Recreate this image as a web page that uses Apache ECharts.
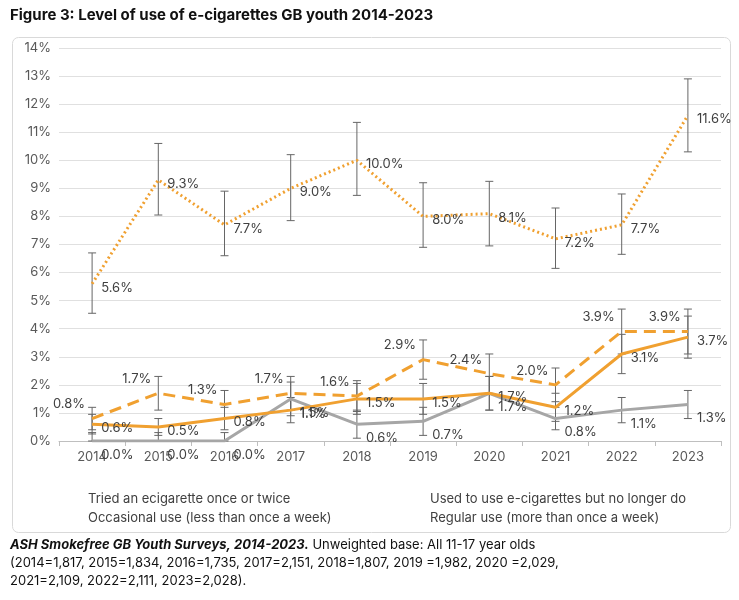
<!DOCTYPE html>
<html><head><meta charset="utf-8">
<script src="https://cdn.jsdelivr.net/npm/echarts@6/dist/echarts.min.js"></script>
<style>html,body{margin:0;background:#fff}#c{width:739px;height:600px}</style>
</head><body><div id="c"></div>
<script>
const years = ["2014","2015","2016","2017","2018","2019","2020","2021","2022","2023"];
const tried = [5.6, 9.3, 7.7, 9.0, 10.0, 8.0, 8.1, 7.2, 7.7, 11.6];
const triedLow = [4.55, 8.05, 6.6, 7.85, 8.75, 6.9, 6.95, 6.15, 6.65, 10.3];
const triedHigh = [6.7, 10.6, 8.9, 10.2, 11.35, 9.2, 9.25, 8.3, 8.8, 12.9];
const usedTo = [0.0, 0.0, 0.0, 1.5, 0.6, 0.7, 1.7, 0.8, 1.1, 1.3];
const usedErr = [0.3, 0.3, 0.3, 0.6, 0.5, 0.5, 0.6, 0.4, 0.45, 0.5];
const occasional = [0.8, 1.7, 1.3, 1.7, 1.6, 2.9, 2.4, 2.0, 3.9, 3.9];
const occErr = [0.4, 0.6, 0.5, 0.6, 0.55, 0.7, 0.7, 0.6, 0.8, 0.8];
const regular = [0.6, 0.5, 0.8, 1.1, 1.5, 1.5, 1.7, 1.2, 3.1, 3.7];
const regErr = [0.35, 0.3, 0.4, 0.45, 0.55, 0.55, 0.6, 0.5, 0.7, 0.75];
const yTicks = [0, 1, 2, 3, 4, 5, 6, 7, 8, 9, 10, 11, 12, 13, 14];

const orange = "#f0a030";
const grey = "#a6a6a6";
const font = "Inter";

function errorBars(low, high) {
  return {
    type: "custom",
    silent: true,
    z: 5,
    data: years.map((y, i) => [i, low[i], high[i]]),
    renderItem(params, api) {
      const x = api.coord([api.value(0), api.value(1)]);
      const t = api.coord([api.value(0), api.value(2)]);
      const w = 4;
      const st = { stroke: "#666", lineWidth: 1 };
      return {
        type: "group",
        children: [
          { type: "line", shape: { x1: x[0], y1: x[1], x2: t[0], y2: t[1] }, style: st },
          { type: "line", shape: { x1: x[0] - w, y1: x[1], x2: x[0] + w, y2: x[1] }, style: st },
          { type: "line", shape: { x1: t[0] - w, y1: t[1], x2: t[0] + w, y2: t[1] }, style: st },
        ],
      };
    },
  };
}

function lineSeries(name, data, color, type, labelPos, offset) {
  return {
    name, type: "line", data, symbol: "circle", symbolSize: 0.1, showSymbol: true, z: 10,
    lineStyle: { color, width: 3, type },
    itemStyle: { color },
    label: {
      show: true, position: labelPos, offset, color: "#404040", fontSize: 13, fontFamily: font,
      formatter: (p) => p.value.toFixed(1) + "%",
    },
  };
}

const legendBase = {
  orient: "vertical", itemGap: 6, itemWidth: 50, itemHeight: 10, icon: "none",
  itemStyle: { opacity: 0 },
  textStyle: { color: "#404040", fontSize: 13 },
};

const chart = echarts.init(document.getElementById("c"));
chart.setOption({
  animation: false,
  textStyle: { fontFamily: font },
  grid: { left: 59, right: 18, top: 48, bottom: 159 },
  xAxis: {
    type: "category", data: years, boundaryGap: true,
    axisLine: { lineStyle: { color: "#bfbfbf" } },
    axisTick: { show: true, lineStyle: { color: "#bfbfbf" } },
    axisLabel: { color: "#595959", fontSize: 13, margin: 10 },
  },
  yAxis: {
    type: "value", min: 0, max: 14, interval: 1,
    axisLine: { show: false },
    axisLabel: { color: "#595959", fontSize: 13, formatter: (v) => (yTicks.includes(v) ? v + "%" : "") },
    splitLine: { lineStyle: { color: "#e0e0e0" } },
  },
  legend: [
    Object.assign({ left: 28, top: 488, data: ["Tried an ecigarette once or twice", "Occasional use (less than once a week)"] }, legendBase),
    Object.assign({ left: 370, top: 488, data: ["Used to use e-cigarettes but no longer do", "Regular use (more than once a week)"] }, legendBase),
  ],
  graphic: [
    { type: "rect", left: 10, top: 35, shape: { width: 718, height: 495, r: 6 }, style: { fill: "none", stroke: "#d9d9d9", lineWidth: 1 }, silent: true },
    { type: "text", left: 10, top: 8, style: { text: "Figure 3: Level of use of e-cigarettes GB youth 2014-2023", font: "bold 15px Inter", fill: "#111" } },
    { type: "text", left: 10, top: 536, style: {
      text: "{b|ASH Smokefree GB Youth Surveys, 2014-2023.} Unweighted base: All 11-17 year olds\n(2014=1,817, 2015=1,834, 2016=1,735, 2017=2,151, 2018=1,807, 2019 =1,982, 2020 =2,029,\n2021=2,109, 2022=2,111, 2023=2,028).",
      font: "13px Inter", fill: "#111", lineHeight: 18,
      rich: { b: { font: "italic bold 13px Inter", fill: "#111" } },
    } },
  ],
  series: [
    errorBars(triedLow, triedHigh),
    errorBars(usedTo.map((v, i) => Math.max(0, v - usedErr[i])), usedTo.map((v, i) => v + usedErr[i])),
    errorBars(occasional.map((v, i) => v - occErr[i]), occasional.map((v, i) => v + occErr[i])),
    errorBars(regular.map((v, i) => v - regErr[i]), regular.map((v, i) => v + regErr[i])),
    lineSeries("Tried an ecigarette once or twice", tried, orange, [2, 3], "right", [4, 4]),
    lineSeries("Used to use e-cigarettes but no longer do", usedTo, grey, "solid", "right", [4, 14]),
    lineSeries("Occasional use (less than once a week)", occasional, orange, [12, 7], "left", [-2, -14]),
    lineSeries("Regular use (more than once a week)", regular, orange, "solid", "right", [4, 4]),
  ],
});
</script></body></html>
